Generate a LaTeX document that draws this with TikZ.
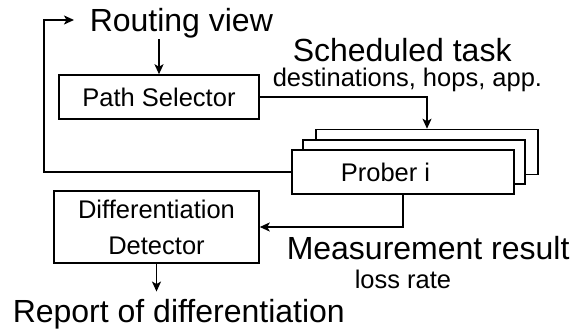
\documentclass[tikz,border=0pt]{standalone}
\usepackage{fontspec}
\setmainfont[Ligatures=NoCommon]{Liberation Sans}
\usetikzlibrary{arrows.meta}
\begin{document}
\begin{tikzpicture}[x=1pt,y=-1pt,line width=1.5pt,
  big/.style={inner sep=0pt,font=\fontsize{32}{36}\selectfont},
  small/.style={inner sep=0pt,font=\fontsize{25.5}{36}\selectfont},
  box/.style={draw,fill=white,inner sep=0pt,font=\fontsize{25.5}{36}\selectfont,align=center},
  arr/.style={-{Stealth[length=10pt,width=9pt,inset=2.5pt]}}]
\useasboundingbox (0,0) rectangle (576,336);
% texts
\node[big,anchor=base west] (rv) at (89,32) {Routing view};
\node[big,anchor=base west] (st) at (292,62) {Scheduled task};
\node[small,anchor=base west] (dest) at (272,87) {destinations, hops, app.};
\node[big,anchor=base west] (mr) at (286,260) {Measurement result};
\node[small,anchor=base west] (lr) at (354,289) {loss rate};
\node[big,anchor=base west] (rep) at (12,323) {Report of differentiation};
% boxes
\node[box,minimum width=200,minimum height=44] (ps) at (159,97) {Path Selector};
\node[box,minimum width=222,minimum height=45] (p3) at (427,152) {};
\node[box,minimum width=222,minimum height=44] (p2) at (414,162) {};
\node[box,minimum width=222,minimum height=44] (p1) at (403,172) {};
\node[small] (pt) at (385.5,172) {Prober i};
\node[box,minimum width=205,minimum height=72] (dd) at (156.5,227) {Differentiation\\Detector};
% connectors
\draw[arr] (rv.south -| ps.north) -- (ps.north);
\draw[arr] (ps.east) -| (p3.north);
\coordinate (lc) at (44,20);
\coordinate (lt) at (74,20);
\draw[arr] (p1.west) -| (lc) -- (lt);
\draw[arr] (p1.south) |- (dd.east);
\draw[arr,shorten >=7.5pt] (dd.south) -- (dd.south |- rep.north);
\end{tikzpicture}
\end{document}
